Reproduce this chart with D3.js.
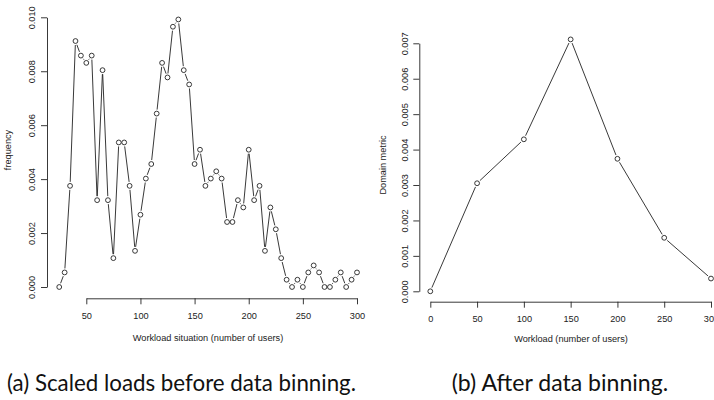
<!DOCTYPE html>
<html>
<head>
<meta charset="utf-8">
<script src="https://cdn.jsdelivr.net/npm/d3@7"></script>
<style>
  html, body { margin: 0; padding: 0; background: #fff; }
  svg { display: block; }
  .tick text, .title { font-family: "Liberation Sans", Arial, sans-serif; fill: #222; }
  .caption { font-family: "Lato", "Open Sans", sans-serif; fill: #111; }
</style>
</head>
<body>
<svg id="chart" width="714" height="400"></svg>
<script>
// (a) scaled loads, sampled every 5 users
const loadUsers = d3.range(25, 301, 5);
const loadFreq = [
  0.00000, 0.00054, 0.00375, 0.00912, 0.00858, 0.00831, 0.00858, 0.00322,
  0.00804, 0.00322, 0.00107, 0.00536, 0.00536, 0.00375, 0.00134, 0.00268,
  0.00402, 0.00456, 0.00643, 0.00831, 0.00777, 0.00965, 0.00992, 0.00804,
  0.00751, 0.00456, 0.00509, 0.00375, 0.00402, 0.00429, 0.00402, 0.00241,
  0.00241, 0.00322, 0.00295, 0.00509, 0.00322, 0.00375, 0.00134, 0.00295,
  0.00214, 0.00107, 0.00027, 0.00000, 0.00027, 0.00000, 0.00054, 0.00080,
  0.00054, 0.00000, 0.00000, 0.00027, 0.00054, 0.00000, 0.00027, 0.00054
];
const loadXTicks = [50, 100, 150, 200, 250, 300];
const loadYTicks = [0, 0.002, 0.004, 0.006, 0.008, 0.010];

// (b) after binning
const binUsers = [0, 50, 100, 150, 200, 250, 300];
const binMetric = [0.00000, 0.00305, 0.00429, 0.00711, 0.00374, 0.00151, 0.00036];
const binXTicks = [0, 50, 100, 150, 200, 250, 300];
const binYTicks = [0, 0.001, 0.002, 0.003, 0.004, 0.005, 0.006, 0.007];

const captions = ["(a) Scaled loads before data binning.", "(b) After data binning."];

const svg = d3.select("#chart");
const INK = "#222";

// Draws one R-style "type b" panel: points joined by segments that stop short of each point.
function panel(cfg) {
  const g = svg.append("g");
  const x = d3.scaleLinear().domain(cfg.xDomain).range(cfg.xRange);
  const y = d3.scaleLinear().domain(cfg.yDomain).range(cfg.yRange);

  const xAxis = g.append("g")
    .attr("transform", `translate(0,${cfg.xAxisY})`)
    .call(d3.axisBottom(x).tickValues(cfg.xTicks).tickFormat(d3.format("d"))
      .tickSize(6).tickPadding(8).tickSizeOuter(0));
  const yAxis = g.append("g")
    .attr("transform", `translate(${cfg.yAxisX},0)`)
    .call(d3.axisLeft(y).tickValues(cfg.yTicks).tickFormat(d3.format(".3f"))
      .tickSize(6).tickSizeOuter(0));
  yAxis.selectAll(".tick text")
    .attr("x", 0).attr("dy", "0.35em")
    .attr("text-anchor", "middle")
    .attr("transform", "translate(-15,0) rotate(-90)");
  [xAxis, yAxis].forEach(a => {
    a.selectAll("path, line").attr("stroke", INK).attr("stroke-width", 0.9);
    a.selectAll("text").style("font-size", "9.2px").attr("fill", INK);
  });

  const pts = cfg.xs.map((v, i) => [x(v), y(cfg.ys[i])]);
  const gap = 4;
  const segs = [];
  for (let i = 0; i < pts.length - 1; i++) {
    const [x0, y0] = pts[i], [x1, y1] = pts[i + 1];
    const len = Math.hypot(x1 - x0, y1 - y0);
    if (len <= 2 * gap) continue;
    const ux = (x1 - x0) / len, uy = (y1 - y0) / len;
    segs.push([x0 + ux * gap, y0 + uy * gap, x1 - ux * gap, y1 - uy * gap]);
  }
  g.append("g").selectAll("line").data(segs).join("line")
    .attr("x1", d => d[0]).attr("y1", d => d[1])
    .attr("x2", d => d[2]).attr("y2", d => d[3])
    .attr("stroke", INK).attr("stroke-width", 0.9);
  g.append("g").selectAll("circle").data(pts).join("circle")
    .attr("cx", d => d[0]).attr("cy", d => d[1]).attr("r", 2.4)
    .attr("fill", "none").attr("stroke", INK).attr("stroke-width", 0.9);

  g.append("text").attr("class", "title")
    .attr("x", cfg.xTitle[0]).attr("y", cfg.xTitle[1]).attr("dy", "0.35em")
    .attr("text-anchor", "middle").style("font-size", "9.2px")
    .text(cfg.xLabel);
  g.append("text").attr("class", "title")
    .attr("transform", `translate(${cfg.yTitle[0]},${cfg.yTitle[1]}) rotate(-90)`)
    .attr("dy", "0.35em").attr("text-anchor", "middle").style("font-size", "9.2px")
    .text(cfg.yLabel);
}

panel({
  xs: loadUsers, ys: loadFreq,
  xDomain: [50, 300], xRange: [86.3, 357],
  yDomain: [0, 0.010], yRange: [287, 17.3],
  xTicks: loadXTicks, yTicks: loadYTicks,
  xAxisY: 298.3, yAxisX: 47,
  xLabel: "Workload situation (number of users)", xTitle: [208, 337.7],
  yLabel: "frequency", yTitle: [8, 150]
});

panel({
  xs: binUsers, ys: binMetric,
  xDomain: [0, 300], xRange: [430.3, 711],
  yDomain: [0, 0.007], yRange: [291.3, 43.3],
  xTicks: binXTicks, yTicks: binYTicks,
  xAxisY: 301.7, yAxisX: 419.3,
  xLabel: "Workload (number of users)", xTitle: [571, 338.7],
  yLabel: "Domain metric", yTitle: [383, 165]
});

// Sub-figure captions, each fitted to its column width
const capPos = [[7, 349], [451.7, 216.5]];
svg.selectAll("text.caption").data(captions).join("text")
  .attr("class", "caption")
  .attr("x", (d, i) => capPos[i][0])
  .attr("y", 391)
  .attr("textLength", (d, i) => capPos[i][1])
  .attr("lengthAdjust", "spacingAndGlyphs")
  .style("font-size", "23px")
  .text(d => d);
</script>
</body>
</html>
